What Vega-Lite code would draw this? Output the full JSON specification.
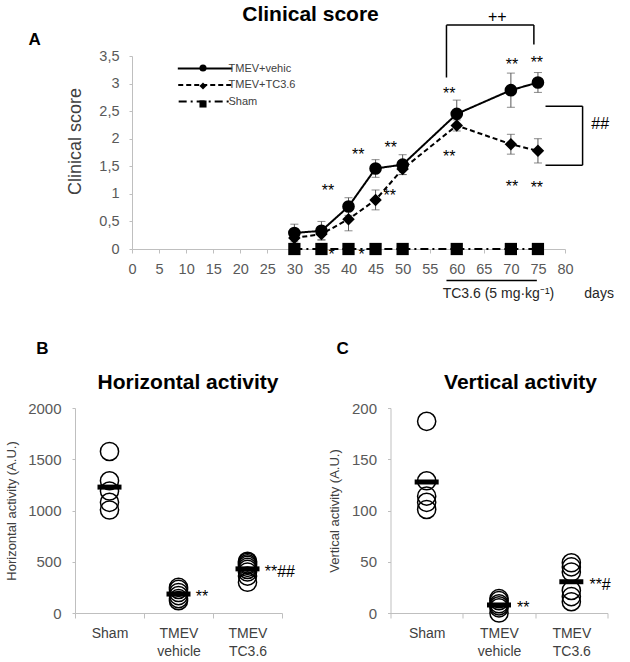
{
  "$schema": "https://vega.github.io/schema/vega-lite/v6.json",
  "padding": {"left": 5, "top": 4, "right": 2, "bottom": 2},
  "background": "white",
  "config": {
    "font": "Liberation Sans",
    "view": {"stroke": null},
    "axis": {"grid": false, "domainColor": "#bfbfbf", "tickColor": "#bfbfbf", "labelColor": "#595959", "titleColor": "#404040", "titleFontWeight": "normal"},
    "title": {"fontWeight": "bold", "color": "#000000"},
    "legend": {"padding": 0}
  },
  "datasets": {
    "score": [
      {"series": "TMEV+vehic", "day": 30, "score": 0.29, "err": 0.16},
      {"series": "TMEV+vehic", "day": 35, "score": 0.33, "err": 0.17},
      {"series": "TMEV+vehic", "day": 40, "score": 0.77, "err": 0.16},
      {"series": "TMEV+vehic", "day": 45, "score": 1.46, "err": 0.16},
      {"series": "TMEV+vehic", "day": 50, "score": 1.53, "err": 0.18},
      {"series": "TMEV+vehic", "day": 60, "score": 2.45, "err": 0.25},
      {"series": "TMEV+vehic", "day": 70, "score": 2.88, "err": 0.31},
      {"series": "TMEV+vehic", "day": 75, "score": 3.02, "err": 0.18},
      {"series": "TMEV+TC3.6", "day": 30, "score": 0.2, "err": 0.1},
      {"series": "TMEV+TC3.6", "day": 35, "score": 0.27, "err": 0.1},
      {"series": "TMEV+TC3.6", "day": 40, "score": 0.54, "err": 0.21},
      {"series": "TMEV+TC3.6", "day": 45, "score": 0.89, "err": 0.18},
      {"series": "TMEV+TC3.6", "day": 50, "score": 1.45, "err": 0.1},
      {"series": "TMEV+TC3.6", "day": 60, "score": 2.24, "err": 0.1},
      {"series": "TMEV+TC3.6", "day": 70, "score": 1.9, "err": 0.18},
      {"series": "TMEV+TC3.6", "day": 75, "score": 1.78, "err": 0.22},
      {"series": "Sham", "day": 30, "score": 0, "err": 0},
      {"series": "Sham", "day": 35, "score": 0, "err": 0},
      {"series": "Sham", "day": 40, "score": 0, "err": 0},
      {"series": "Sham", "day": 45, "score": 0, "err": 0},
      {"series": "Sham", "day": 50, "score": 0, "err": 0},
      {"series": "Sham", "day": 60, "score": 0, "err": 0},
      {"series": "Sham", "day": 70, "score": 0, "err": 0},
      {"series": "Sham", "day": 75, "score": 0, "err": 0}
    ],
    "stars": [
      {"day": 36.2, "score": 1.12, "label": "**"},
      {"day": 41.8, "score": 1.77, "label": "**"},
      {"day": 47.8, "score": 1.9, "label": "**"},
      {"day": 47.6, "score": 1.04, "label": "**"},
      {"day": 58.6, "score": 2.88, "label": "**"},
      {"day": 58.6, "score": 1.75, "label": "**"},
      {"day": 70.2, "score": 3.41, "label": "**"},
      {"day": 74.8, "score": 3.44, "label": "**"},
      {"day": 70.2, "score": 1.2, "label": "**"},
      {"day": 74.8, "score": 1.18, "label": "**"},
      {"day": 36.9, "score": -0.03, "label": "*"},
      {"day": 42.4, "score": -0.03, "label": "*"}
    ],
    "signs": [
      {"day": 67.5, "score": 4.2, "label": "++"},
      {"day": 86.5, "score": 2.26, "label": "##"}
    ],
    "notes": [
      {"day": 67.7, "score": -0.82, "label": "TC3.6 (5 mg·kg⁻¹)"},
      {"day": 86.3, "score": -0.82, "label": "days"}
    ],
    "brackets": [
      {"day": 58.1, "day2": 58.1, "score": 3.11, "score2": 4.06},
      {"day": 58.1, "day2": 74.25, "score": 4.06, "score2": 4.06},
      {"day": 74.25, "day2": 74.25, "score": 4.06, "score2": 3.71},
      {"day": 76.4, "day2": 83.25, "score": 2.59, "score2": 2.59},
      {"day": 83.25, "day2": 83.25, "score": 2.59, "score2": 1.52},
      {"day": 76.4, "day2": 83.25, "score": 1.52, "score2": 1.52},
      {"day": 58.1, "day2": 74.8, "score": -0.57, "score2": -0.57}
    ],
    "horiz": [
      {"group": "Sham", "value": 1576}, {"group": "Sham", "value": 1290}, {"group": "Sham", "value": 1190}, {"group": "Sham", "value": 1080}, {"group": "Sham", "value": 1005},
      {"group": "TMEV vehicle", "value": 250}, {"group": "TMEV vehicle", "value": 230}, {"group": "TMEV vehicle", "value": 200}, {"group": "TMEV vehicle", "value": 170}, {"group": "TMEV vehicle", "value": 140}, {"group": "TMEV vehicle", "value": 120},
      {"group": "TMEV TC3.6", "value": 505}, {"group": "TMEV TC3.6", "value": 495}, {"group": "TMEV TC3.6", "value": 480}, {"group": "TMEV TC3.6", "value": 465}, {"group": "TMEV TC3.6", "value": 445}, {"group": "TMEV TC3.6", "value": 425}, {"group": "TMEV TC3.6", "value": 400}, {"group": "TMEV TC3.6", "value": 360}, {"group": "TMEV TC3.6", "value": 300}
    ],
    "vert": [
      {"group": "Sham", "value": 187}, {"group": "Sham", "value": 129}, {"group": "Sham", "value": 114}, {"group": "Sham", "value": 108}, {"group": "Sham", "value": 101},
      {"group": "TMEV vehicle", "value": 14}, {"group": "TMEV vehicle", "value": 12}, {"group": "TMEV vehicle", "value": 9}, {"group": "TMEV vehicle", "value": 7}, {"group": "TMEV vehicle", "value": 5}, {"group": "TMEV vehicle", "value": 0},
      {"group": "TMEV TC3.6", "value": 49}, {"group": "TMEV TC3.6", "value": 45}, {"group": "TMEV TC3.6", "value": 40}, {"group": "TMEV TC3.6", "value": 22}, {"group": "TMEV TC3.6", "value": 16}, {"group": "TMEV TC3.6", "value": 11}
    ],
    "hstars": [
      {"group": "TMEV vehicle", "value": 185, "label": "**"},
      {"group": "TMEV TC3.6", "value": 430, "label": "**##"}
    ],
    "vstars": [
      {"group": "TMEV vehicle", "value": 7.8, "label": "**"},
      {"group": "TMEV TC3.6", "value": 30.5, "label": "**#"}
    ]
  },
  "title": {"text": "Clinical score", "fontSize": 21, "anchor": "middle", "offset": -16, "dx": 1},
  "columns": 1,
  "align": "none",
  "spacing": 38,
  "concat": [
    {
      "spacing": -10,
      "hconcat": [
        {
          "width": 1,
          "height": 193,
          "data": {"values": []},
          "mark": "point",
          "encoding": {
            "y": {"field": "v", "type": "quantitative", "scale": {"domain": [0, 1]},
              "axis": {"title": "A", "titleX": -47, "titleY": -12, "titleAngle": 0, "titleAlign": "left", "titleBaseline": "alphabetic", "titleFontSize": 17, "titleFontWeight": "bold", "titleColor": "black", "labels": false, "ticks": false, "domain": false}}
          }
        },
        {
          "width": 433,
          "height": 193,
          "encoding": {
            "x": {"field": "day", "type": "quantitative", "scale": {"domain": [0, 80], "nice": false},
              "axis": {"values": [0, 5, 10, 15, 20, 25, 30, 35, 40, 45, 50, 55, 60, 65, 70, 75, 80], "title": null, "labelFontSize": 14.5, "tickSize": 4, "labelPadding": 9, "labelOverlap": false, "labelFlush": false}},
            "y": {"field": "score", "type": "quantitative", "scale": {"domain": [0, 3.5], "nice": false},
              "axis": {"values": [0, 0.5, 1, 1.5, 2, 2.5, 3, 3.5], "labelExpr": "replace(format(datum.value, '~g'), '.', ',')", "title": "Clinical score", "titleFontSize": 18, "labelFontSize": 14.5, "tickSize": 3, "labelPadding": 10, "titlePadding": 14, "titleY": 85}}
          },
          "layer": [
            {
              "data": {"name": "score"},
              "mark": {"type": "line", "color": "black", "strokeWidth": 2},
              "encoding": {
                "strokeDash": {"field": "series", "type": "nominal",
                  "scale": {"domain": ["TMEV+vehic", "TMEV+TC3.6", "Sham"], "range": [[1, 0], [5, 3], [8, 4, 2, 4]]},
                  "legend": {"title": null, "orient": "none", "legendX": 122.5, "legendY": 5, "rowPadding": 3.5, "symbolType": "M-4.3,0H4.3", "symbolSize": 100, "symbolStrokeWidth": 2, "symbolStrokeColor": "black", "labelFontSize": 11, "labelColor": "#404040", "labelOffset": 16, "padding": 0}}
              }
            },
            {
              "data": {"name": "score"},
              "transform": [{"filter": "datum.err > 0"}],
              "mark": {"type": "errorbar", "ticks": {"size": 8, "color": "#595959"}, "rule": {"color": "#595959", "strokeWidth": 1}},
              "encoding": {
                "yError": {"field": "err"}
              }
            },
            {
              "data": {"name": "score"},
              "mark": {"type": "point", "filled": true, "color": "black", "opacity": 1},
              "encoding": {
                "shape": {"field": "series", "type": "nominal", "sort": ["TMEV+vehic", "TMEV+TC3.6", "Sham"],
                  "scale": {"range": ["circle", "diamond", "square"]},
                  "legend": {"title": null, "orient": "none", "legendX": 123, "legendY": 7, "rowPadding": 8, "symbolSize": 50, "symbolFillColor": "black", "symbolStrokeColor": "black", "symbolStrokeWidth": 0, "symbolOpacity": 1, "labelExpr": "''", "padding": 0}},
                "size": {"field": "series", "type": "nominal", "scale": {"domain": ["TMEV+vehic", "TMEV+TC3.6", "Sham"], "range": [160, 150, 90]}, "legend": null}
              }
            },
            {
              "data": {"name": "brackets"},
              "mark": {"type": "rule", "color": "black", "strokeWidth": 1.5},
              "encoding": {
                "x2": {"field": "day2"},
                "y2": {"field": "score2"}
              }
            },
            {
              "data": {"name": "stars"},
              "mark": {"type": "text", "fontSize": 16, "color": "black", "baseline": "middle", "dy": 4},
              "encoding": {"text": {"field": "label"}}
            },
            {
              "data": {"name": "signs"},
              "mark": {"type": "text", "fontSize": 16, "color": "black", "baseline": "middle"},
              "encoding": {"text": {"field": "label"}}
            },
            {
              "data": {"name": "notes"},
              "mark": {"type": "text", "fontSize": 14, "color": "#262626", "baseline": "middle"},
              "encoding": {"text": {"field": "label"}}
            }
          ]
        }
      ]
    },
    {
      "spacing": 33.5,
      "hconcat": [
        {
          "title": {"text": "B", "anchor": "start", "fontSize": 17, "dx": 31, "offset": 14},
          "vconcat": [
            {
              "width": 207,
              "height": 205,
              "title": {"text": "Horizontal activity", "fontSize": 21, "anchor": "middle", "frame": "group", "dx": 9.5, "offset": 8},
              "encoding": {
                "x": {"field": "group", "type": "nominal", "scale": {"type": "band", "domain": ["Sham", "TMEV vehicle", "TMEV TC3.6"], "paddingInner": 0, "paddingOuter": 0},
                  "axis": {"title": null, "labelAngle": 0, "tickBand": "extent", "labelExpr": "split(datum.label, ' ')", "labelFontSize": 14, "labelColor": "#404040", "labelLineHeight": 18, "tickSize": 5, "labelPadding": 8}},
                "y": {"field": "value", "type": "quantitative", "title": "Horizontal activity (A.U.)", "scale": {"domain": [0, 2000], "nice": false},
                  "axis": {"values": [0, 500, 1000, 1500, 2000], "format": "d", "titleFontSize": 13, "labelFontSize": 15, "tickSize": 3, "labelPadding": 11, "titlePadding": 9.5}}
              },
              "layer": [
                {
                  "data": {"name": "horiz"},
                  "mark": {"type": "point", "shape": "circle", "filled": false, "color": "black", "strokeWidth": 1.5, "size": 330, "opacity": 1}
                },
                {
                  "data": {"name": "horiz"},
                  "mark": {"type": "tick", "color": "black", "thickness": 5, "size": 24, "opacity": 1},
                  "encoding": {
                    "y": {"aggregate": "mean", "field": "value", "type": "quantitative", "title": "Horizontal activity (A.U.)"}
                  }
                },
                {
                  "data": {"name": "hstars"},
                  "mark": {"type": "text", "align": "left", "baseline": "middle", "fontSize": 16, "dy": 3, "color": "black"},
                  "encoding": {
                    "x": {"field": "group", "type": "nominal", "bandPosition": 0.75},
                    "text": {"field": "label"}
                  }
                }
              ]
            }
          ]
        },
        {
          "title": {"text": "C", "anchor": "start", "fontSize": 17, "dx": 7.5, "offset": 14},
          "vconcat": [
            {
              "width": 217,
              "height": 205,
              "title": {"text": "Vertical activity", "fontSize": 21, "anchor": "middle", "frame": "group", "dx": 21.5, "offset": 8},
              "encoding": {
                "x": {"field": "group", "type": "nominal", "scale": {"type": "band", "domain": ["Sham", "TMEV vehicle", "TMEV TC3.6"], "paddingInner": 0, "paddingOuter": 0},
                  "axis": {"title": null, "labelAngle": 0, "tickBand": "extent", "labelExpr": "split(datum.label, ' ')", "labelFontSize": 14, "labelColor": "#404040", "labelLineHeight": 18, "tickSize": 5, "labelPadding": 8}},
                "y": {"field": "value", "type": "quantitative", "title": "Vertical activity (A.U.)", "scale": {"domain": [0, 200], "nice": false},
                  "axis": {"values": [0, 50, 100, 150, 200], "titleFontSize": 13, "labelFontSize": 15, "tickSize": 3, "labelPadding": 11, "titlePadding": 9.5}}
              },
              "layer": [
                {
                  "data": {"name": "vert"},
                  "mark": {"type": "point", "shape": "circle", "filled": false, "color": "black", "strokeWidth": 1.5, "size": 330, "opacity": 1}
                },
                {
                  "data": {"name": "vert"},
                  "mark": {"type": "tick", "color": "black", "thickness": 5, "size": 24, "opacity": 1},
                  "encoding": {
                    "y": {"aggregate": "mean", "field": "value", "type": "quantitative", "title": "Vertical activity (A.U.)"}
                  }
                },
                {
                  "data": {"name": "vstars"},
                  "mark": {"type": "text", "align": "left", "baseline": "middle", "fontSize": 16, "dy": 3, "color": "black"},
                  "encoding": {
                    "x": {"field": "group", "type": "nominal", "bandPosition": 0.75},
                    "text": {"field": "label"}
                  }
                }
              ]
            }
          ]
        }
      ]
    }
  ]
}
